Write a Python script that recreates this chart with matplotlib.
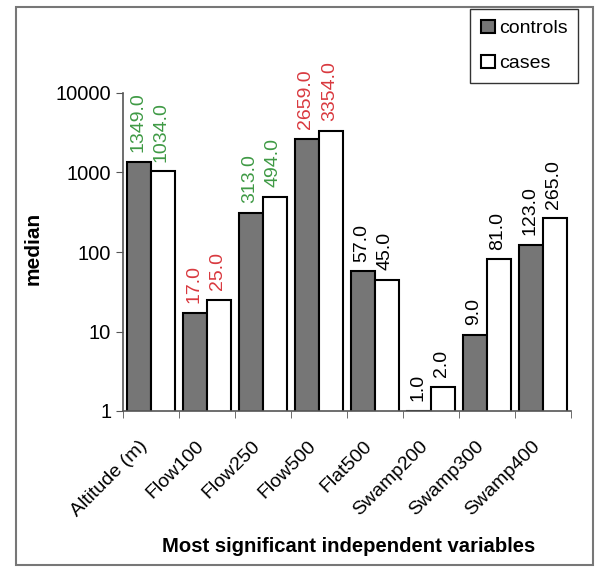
import matplotlib.pyplot as plt
import matplotlib.transforms as mtransforms
import numpy as np
from matplotlib.patches import Rectangle

plt.rcParams['font.family'] = ['Liberation Sans', 'DejaVu Sans']

# data
variables = ['Altitude (m)', 'Flow100', 'Flow250', 'Flow500', 'Flat500',
             'Swamp200', 'Swamp300', 'Swamp400']
controls = [1349.0, 17.0, 313.0, 2659.0, 57.0, 1.0, 9.0, 123.0]
cases = [1034.0, 25.0, 494.0, 3354.0, 45.0, 2.0, 81.0, 265.0]
label_colors = ['#3f9a45', '#d9393f', '#3f9a45', '#d9393f',
                'black', 'black', 'black', 'black']

fig = plt.figure(figsize=(5.97, 5.68), dpi=100)
ax = fig.add_axes([123/597, 1-411/568, (571-123)/597, (411-93)/568])

x = np.arange(len(variables))
w = 0.42
b1 = ax.bar(x - w/2, controls, w, color='#767676', edgecolor='black',
            linewidth=1.5, label='controls')
b2 = ax.bar(x + w/2, cases, w, color='white', edgecolor='black',
            linewidth=1.5, label='cases')

# value labels above each bar
for i in range(len(variables)):
    for xpos, val in [(x[i] - w/2, controls[i]), (x[i] + w/2, cases[i])]:
        ax.annotate('%.1f' % val, (xpos, val), xytext=(-1, 7),
                    textcoords='offset points', rotation=90,
                    ha='center', va='bottom', fontsize=14,
                    color=label_colors[i])

ax.set_yscale('log')
ax.set_ylim(1, 10000)
ax.set_xlim(-0.5, len(variables) - 0.5)
ax.set_yticks([1, 10, 100, 1000, 10000])
ax.set_yticklabels(['1', '10', '100', '1000', '10000'])
ax.yaxis.set_minor_locator(plt.NullLocator())
ax.tick_params(axis='y', labelsize=14.5, length=5, color='#555555')

ax.set_xticks(x)
ax.set_xticklabels(variables, rotation=45, ha='right',
                   rotation_mode='anchor', fontsize=14)
ax.set_xticks(np.arange(len(variables) + 1) - 0.5, minor=True)
ax.tick_params(axis='x', which='major', length=0, pad=19)
ax.tick_params(axis='x', which='minor', length=5, color='#555555')
shift = mtransforms.ScaledTranslation(-12/100, 0, fig.dpi_scale_trans)
for lab in ax.get_xticklabels():
    lab.set_transform(lab.get_transform() + shift)

for s in ['top', 'right']:
    ax.spines[s].set_visible(False)
for s in ['left', 'bottom']:
    ax.spines[s].set_color('#555555')
    ax.spines[s].set_linewidth(1.2)

fig.text(33/597, 1-248/568, 'median', rotation=90, ha='center',
         va='center', fontsize=15, fontweight='bold')
fig.text(349/597, 1-547/568, 'Most significant independent variables',
         ha='center', va='center', fontsize=14.6, fontweight='bold')

leg = fig.legend(handles=[b1, b2], loc='upper right',
                 bbox_to_anchor=(578/597, 1-9/568), fontsize=14,
                 frameon=True, fancybox=False, edgecolor='black',
                 handlelength=0.7, handleheight=0.7, handletextpad=0.2,
                 borderpad=0.55, labelspacing=0.9, borderaxespad=0)
leg.get_frame().set_linewidth(1.0)

# outer frame around the whole chart
fig.patches.append(Rectangle((16/597, 1-565/568), (593-16)/597,
                             (565-7)/568, transform=fig.transFigure,
                             fill=False, edgecolor='#777777', linewidth=1.5))

fig.savefig('out.png', dpi=100)
